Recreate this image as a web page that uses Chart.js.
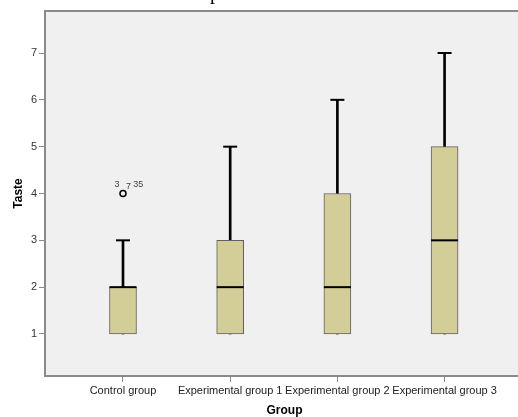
<!DOCTYPE html>
<html>
<head>
<meta charset="utf-8">
<script src="https://cdn.jsdelivr.net/npm/chart.js@4"></script>
<style>
  html, body { margin: 0; padding: 0; background: #ffffff; overflow: hidden; }
</style>
</head>
<body>
<canvas id="boxChart" width="524" height="417"></canvas>
<script>
// =========================
// 데이터 (boxplot 요약값)
// =========================
const categories = ["Control group", "Experimental group 1", "Experimental group 2", "Experimental group 3"];
const minValues = [1, 1, 1, 1];
const q1Values = [1, 1, 1, 1];
const medianValues = [2, 2, 2, 3];
const q3Values = [2, 3, 4, 5];
const maxValues = [3, 5, 6, 7];

const outlierGroups = [0];
const outlierValues = [4];
const outlierLabels = [["3", "7", "35"]];

const yTicks = [1, 2, 3, 4, 5, 6, 7];

// =========================
// 스타일
// =========================
const BOX_FILL = "#d3ce97";
const BOX_BORDER = "#606060";
const AXIS_GRAY = "#8a8a8a";
const PLOT_BG = "#f0f0f0";

// =========================
// 플롯 배경 / 테두리 / 이상치 라벨
// =========================
const plotAreaPlugin = {
  id: "plotArea",
  beforeDraw: (chart) => {
    const { ctx, chartArea } = chart;
    ctx.save();
    ctx.fillStyle = PLOT_BG;
    ctx.fillRect(chartArea.left, chartArea.top, chartArea.right - chartArea.left, chartArea.bottom - chartArea.top);
    ctx.restore();
  },
  afterDraw: (chart) => {
    const { ctx, chartArea } = chart;
    ctx.save();
    ctx.strokeStyle = AXIS_GRAY;
    ctx.lineWidth = 2;
    ctx.beginPath();
    ctx.moveTo(chartArea.left, chartArea.top);
    ctx.lineTo(chartArea.right, chartArea.top);
    ctx.stroke();

    // 잘린 제목의 일부
    ctx.fillStyle = "#000000";
    ctx.font = "20px 'Liberation Serif', serif";
    ctx.textAlign = "left";
    ctx.textBaseline = "alphabetic";
    ctx.fillText("p", 210, -1);
    ctx.restore();
  },
  afterDatasetsDraw: (chart) => {
    const { ctx, scales } = chart;
    const offsets = [[-6, -8.5], [5.5, -7], [15.3, -9.2]];
    ctx.save();
    ctx.fillStyle = "#444444";
    ctx.font = "9px 'Liberation Sans', Arial, sans-serif";
    ctx.textAlign = "center";
    ctx.textBaseline = "middle";
    outlierGroups.forEach((group, i) => {
      const px = scales.x.getPixelForValue(group);
      const py = scales.y.getPixelForValue(outlierValues[i]);
      outlierLabels[i].forEach((label, j) => {
        const [dx, dy] = offsets[j] || [0, -8];
        ctx.fillText(label, px + dx, py + dy);
      });
    });
    ctx.restore();
  },
};

const ctx = document.getElementById("boxChart").getContext("2d");

new Chart(ctx, {
  type: "bar",
  data: {
    datasets: [
      {
        // 박스 (Q1 ~ Q3)
        type: "bar",
        data: categories.map((_, i) => ({ x: i, y: [q1Values[i], q3Values[i]] })),
        backgroundColor: BOX_FILL,
        borderColor: BOX_BORDER,
        borderWidth: 1,
        borderSkipped: false,
        barThickness: 27,
        grouped: false,
        order: 3,
      },
      {
        // 위쪽 수염
        type: "bar",
        data: categories.map((_, i) => ({ x: i, y: [q3Values[i], maxValues[i]] })),
        backgroundColor: "#000000",
        borderWidth: 0,
        barThickness: 2,
        grouped: false,
        order: 4,
      },
      {
        // 아래쪽 수염
        type: "bar",
        data: categories.map((_, i) => ({ x: i, y: [minValues[i], q1Values[i]] })),
        backgroundColor: "#000000",
        borderWidth: 0,
        barThickness: 2,
        grouped: false,
        order: 4,
      },
      {
        // 최대값 캡
        type: "scatter",
        data: categories.map((_, i) => ({ x: i, y: maxValues[i] })),
        pointStyle: "line",
        pointRadius: 7,
        borderColor: "#000000",
        borderWidth: 2,
        order: 1,
      },
      {
        // 중앙값
        type: "scatter",
        data: categories.map((_, i) => ({ x: i, y: medianValues[i] })),
        pointStyle: "line",
        pointRadius: 13.5,
        borderColor: "#000000",
        borderWidth: 2,
        order: 1,
      },
      {
        // 이상치
        type: "scatter",
        data: outlierGroups.map((g, i) => ({ x: g, y: outlierValues[i] })),
        pointStyle: "circle",
        pointRadius: 3,
        borderColor: "#000000",
        backgroundColor: PLOT_BG,
        borderWidth: 1.5,
        order: 0,
      },
    ],
  },
  options: {
    responsive: false,
    animation: false,
    events: [],
    layout: { autoPadding: false, padding: { top: 11, right: 0, bottom: 0, left: 0 } },
    plugins: {
      legend: { display: false },
      tooltip: { enabled: false },
    },
    scales: {
      x: {
        type: "linear",
        offset: false,
        min: -0.7276,
        max: 3.741,
        afterBuildTicks: (scale) => {
          scale.ticks = categories.map((_, i) => ({ value: i }));
        },
        afterFit: (scale) => {
          scale.height = 41;
          scale.paddingRight = 0;
          scale.paddingLeft = 0;
        },
        ticks: {
          autoSkip: false,
          maxRotation: 0,
          minRotation: 0,
          padding: 2,
          color: "#222222",
          font: { family: "'Liberation Sans', Arial, sans-serif", size: 11 },
          callback: (value) => categories[value] ?? "",
        },
        grid: {
          offset: false,
          drawOnChartArea: false,
          drawTicks: true,
          tickLength: 6,
          color: AXIS_GRAY,
          lineWidth: 1,
        },
        border: { color: AXIS_GRAY, width: 2 },
        title: {
          display: true,
          text: "Group",
          color: "#000000",
          padding: { top: 0, bottom: 0 },
          font: { family: "'Liberation Sans', Arial, sans-serif", size: 12, weight: "bold", lineHeight: 1 },
        },
      },
      y: {
        type: "linear",
        min: 0.103,
        max: 7.897,
        afterBuildTicks: (scale) => {
          scale.ticks = yTicks.map((v) => ({ value: v }));
        },
        afterFit: (scale) => {
          scale.width = 45;
        },
        ticks: {
          padding: 2,
          color: "#333333",
          font: { family: "'Liberation Sans', Arial, sans-serif", size: 11 },
        },
        grid: {
          drawOnChartArea: false,
          drawTicks: true,
          tickLength: 6,
          color: AXIS_GRAY,
          lineWidth: 1,
        },
        border: { color: AXIS_GRAY, width: 2 },
        title: {
          display: true,
          text: "Taste",
          color: "#000000",
          padding: { top: 13, bottom: 0 },
          font: { family: "'Liberation Sans', Arial, sans-serif", size: 12, weight: "bold", lineHeight: 1 },
        },
      },
    },
  },
  plugins: [plotAreaPlugin],
});
</script>
</body>
</html>
